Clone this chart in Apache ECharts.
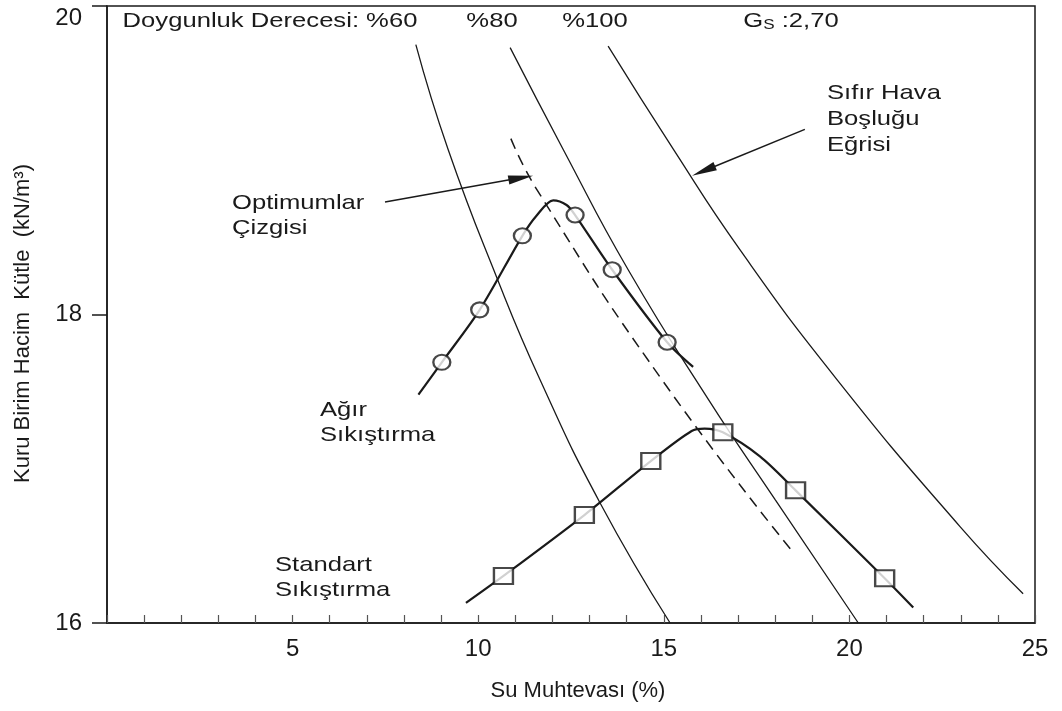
<!DOCTYPE html>
<html><head><meta charset="utf-8">
<script src="https://cdn.jsdelivr.net/npm/echarts@6/dist/echarts.min.js"></script>
<style>html,body{margin:0;padding:0;background:#fff}#c{width:1062px;height:711px}</style>
</head><body><div id="c"></div>
<script>
// Saturation curves
const sat60 = [[8.32,19.75],[9.19,19.07],[10.5,18.24],[11.66,17.58],[13.28,16.78],[15.17,16.0]];
const sat80 = [[10.86,19.73],[12.29,19.07],[14.04,18.29],[16.2,17.45],[18.0,16.8],[20.24,16.0]];
const sat100 = [[13.5,19.74],[15.26,19.07],[17.05,18.42],[19.66,17.58],[22.98,16.625],[24.68,16.19]];
// Line of optimums (dashed)
const optimumLine = [[10.88,19.14],[11.58,18.81],[14.94,17.58],[18.51,16.45]];
// Heavy compaction
const heavyCurve = [[8.39,17.48],[9.02,17.69],[10.04,18.03],[11.19,18.51],[11.57,18.64],[12.02,18.74],[12.38,18.71],[12.61,18.645],[13.61,18.29],[15.09,17.82],[15.79,17.66]];
const heavyPoints = [[9.02,17.69],[10.04,18.03],[11.19,18.51],[12.61,18.645],[13.61,18.29],[15.09,17.82]];
// Standard compaction
const standardCurve = [[9.67,16.13],[10.68,16.305],[12.86,16.70],[14.65,17.05],[15.75,17.245],[16.1,17.26],[16.59,17.236],[17.59,17.08],[18.55,16.86],[20.95,16.29],[21.72,16.10]];
const standardPoints = [[10.68,16.305],[12.86,16.70],[14.65,17.05],[16.59,17.236],[18.55,16.86],[20.95,16.29]];
// Tick labels
const xTickLabels = [5,10,15,20,25];
const yTickLabels = [16,18,20];
// Annotation arrows [x0,y0,x1,y1] in data units
const arrows = [[7.49,18.73,11.48,18.90],[18.80,19.20,15.76,18.90]];

const FONT = "'Liberation Sans', Arial, sans-serif";
const INK = '#1a1a1a';
const SX = 1.22;
const chart = echarts.init(document.getElementById('c'), null, {renderer:'canvas'});

function txt(x, y, text, align, lh) {
  return {type:'text', x:x, y:y, scaleX:SX, z:100, style:{text:text, fill:INK, font:'21px ' + FONT, align:align||'left', verticalAlign:'middle', lineHeight:lh||25}};
}

const option = {
  backgroundColor:'#fff',
  animation:false,
  grid:{left:107, right:27, top:6, bottom:88, show:true, borderColor:INK, borderWidth:1.5, backgroundColor:'transparent', containLabel:false, outerBoundsMode:'none'},
  xAxis:{
    type:'value', min:0, max:25, interval:1,
    name:'Su Muhtevası (%)', nameLocation:'middle', nameGap:57,
    nameTextStyle:{fontFamily:FONT, fontSize:22, color:INK, padding:[0,0,0,14]},
    axisLine:{show:true, lineStyle:{color:INK, width:1.5}},
    axisTick:{show:true, inside:true, length:8, lineStyle:{color:'#555', width:1.2}},
    axisLabel:{fontFamily:FONT, fontSize:24, color:INK, margin:14,
      formatter:v => xTickLabels.indexOf(v) >= 0 ? String(v) : ''},
    splitLine:{show:false}
  },
  yAxis:{
    type:'value', min:16, max:20, interval:2,
    name:'Kuru Birim Hacim  Kütle  (kN/m³)', nameLocation:'middle', nameGap:73,
    nameTextStyle:{fontFamily:FONT, fontSize:22, color:INK, padding:[0,18,0,0]},
    axisLine:{show:true, lineStyle:{color:INK, width:1.5}},
    axisTick:{show:true, inside:false, length:15, lineStyle:{color:INK, width:1.5}},
    axisLabel:{fontFamily:FONT, fontSize:24, color:INK, margin:25, verticalAlignMaxLabel:'top',
      formatter:v => yTickLabels.indexOf(v) >= 0 ? String(v) : ''},
    splitLine:{show:false}
  },
  series:[
    {type:'line', data:sat60, smooth:0.5, symbol:'none', lineStyle:{color:INK, width:1.3}, z:2},
    {type:'line', data:sat80, smooth:0.5, symbol:'none', lineStyle:{color:INK, width:1.3}, z:2},
    {type:'line', data:sat100, smooth:0.5, symbol:'none', lineStyle:{color:INK, width:1.3}, z:2},
    {type:'line', data:optimumLine, smooth:0.5, symbol:'none', lineStyle:{color:INK, width:1.5, type:[11,7]}, z:2},
    {type:'line', data:heavyCurve, smooth:0.3, symbol:'none', lineStyle:{color:INK, width:2.2}, z:3},
    {type:'line', data:standardCurve, smooth:0.3, symbol:'none', lineStyle:{color:INK, width:2.2}, z:3},
    {type:'scatter', data:heavyPoints, symbol:'circle', symbolSize:[17,15], itemStyle:{color:'#fff', borderColor:INK, borderWidth:2.2}, z:5},
    {type:'scatter', data:standardPoints, symbol:'rect', symbolSize:[19,16], itemStyle:{color:'#fff', borderColor:INK, borderWidth:2.2}, z:5},
    {type:'custom', data:arrows, encode:{x:[0,2], y:[1,3]}, z:6,
      renderItem:function(params, api){
        const p0 = api.coord([api.value(0), api.value(1)]);
        const p1 = api.coord([api.value(2), api.value(3)]);
        const dx = p1[0]-p0[0], dy = p1[1]-p0[1];
        const len = Math.sqrt(dx*dx+dy*dy);
        const ux = dx/len, uy = dy/len;
        const L = 25, W = 4.5;
        const bx = p1[0]-ux*L, by = p1[1]-uy*L;
        return {type:'group', children:[
          {type:'line', shape:{x1:p0[0], y1:p0[1], x2:bx+ux*4, y2:by+uy*4}, style:{stroke:INK, lineWidth:1.5}},
          {type:'polygon', shape:{points:[[p1[0],p1[1]],[bx-uy*W, by+ux*W],[bx+uy*W, by-ux*W]]}, style:{fill:INK}}
        ]};
      }}
  ],
  graphic:[
    txt(270, 21, 'Doygunluk Derecesi: %60', 'center'),
    txt(492, 21, '%80', 'center'),
    txt(595, 21, '%100', 'center'),
    {type:'text', x:791, y:21, scaleX:SX, z:100, style:{text:'G{s|S} :2,70', fill:INK, font:'21px ' + FONT, align:'center', verticalAlign:'middle',
      rich:{s:{fontSize:14, fontFamily:FONT, fill:INK, verticalAlign:'bottom', padding:[8,0,0,0]}}}},
    txt(232, 215.5, 'Optimumlar\nÇizgisi', 'left'),
    txt(827, 119, 'Sıfır Hava\nBoşluğu\nEğrisi', 'left', 26),
    txt(320, 422.5, 'Ağır\nSıkıştırma', 'left'),
    txt(275, 577.5, 'Standart\nSıkıştırma', 'left')
  ]
};
chart.setOption(option);
</script>
</body></html>
